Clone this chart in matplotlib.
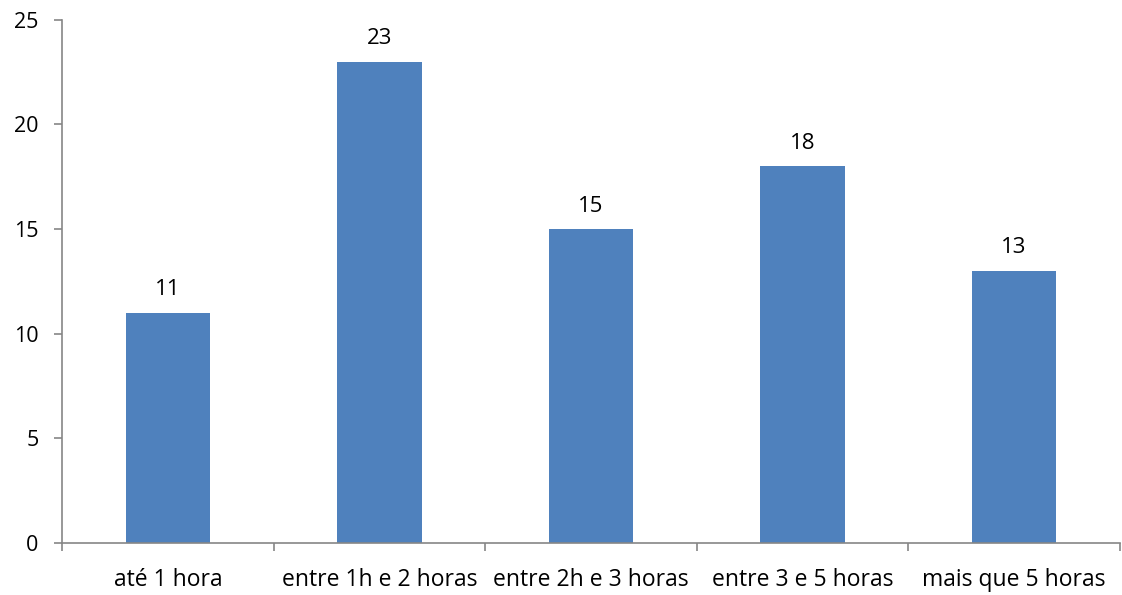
import numpy as np
import matplotlib
matplotlib.use("Agg")
import matplotlib.pyplot as plt

categories = ["até 1 hora", "entre 1h e 2 horas", "entre 2h e 3 horas", "entre 3 e 5 horas", "mais que 5 horas"]
values = [11, 23, 15, 18, 13]
y_ticks = [0, 5, 10, 15, 20, 25]

plt.rcParams["font.family"] = ["Open Sans", "DejaVu Sans"]

fig = plt.figure(figsize=(11.22, 5.95), dpi=100)
ax = fig.add_axes([0.0553, 0.0874, 0.9427, 0.8792])

x = np.arange(len(categories))
ax.bar(x, values, width=0.4, color="#4F81BD")

for xi, v in zip(x, values):
    ax.text(xi, v + 0.6, str(v), ha="center", va="bottom", fontsize=16)

ax.set_xlim(-0.5, len(categories) - 0.5)
ax.set_ylim(0, 25)
ax.set_yticks(y_ticks)
ax.set_yticklabels([str(t) for t in y_ticks], fontsize=15.5)

# category labels centered, tick marks on boundaries
ax.set_xticks(x)
ax.set_xticklabels(categories, fontsize=16.5)
ax.tick_params(axis="x", which="major", length=0, pad=18)
ax.set_xticks(np.arange(len(categories) + 1) - 0.5, minor=True)
ax.tick_params(axis="x", which="minor", length=5.5, width=1.2, color="#868686", direction="out")
ax.tick_params(axis="y", length=6, width=1.2, color="#868686", pad=11)

for side in ["top", "right"]:
    ax.spines[side].set_visible(False)
for side in ["left", "bottom"]:
    ax.spines[side].set_color("#868686")
    ax.spines[side].set_linewidth(1.2)

fig.savefig("out.png", dpi=100)
